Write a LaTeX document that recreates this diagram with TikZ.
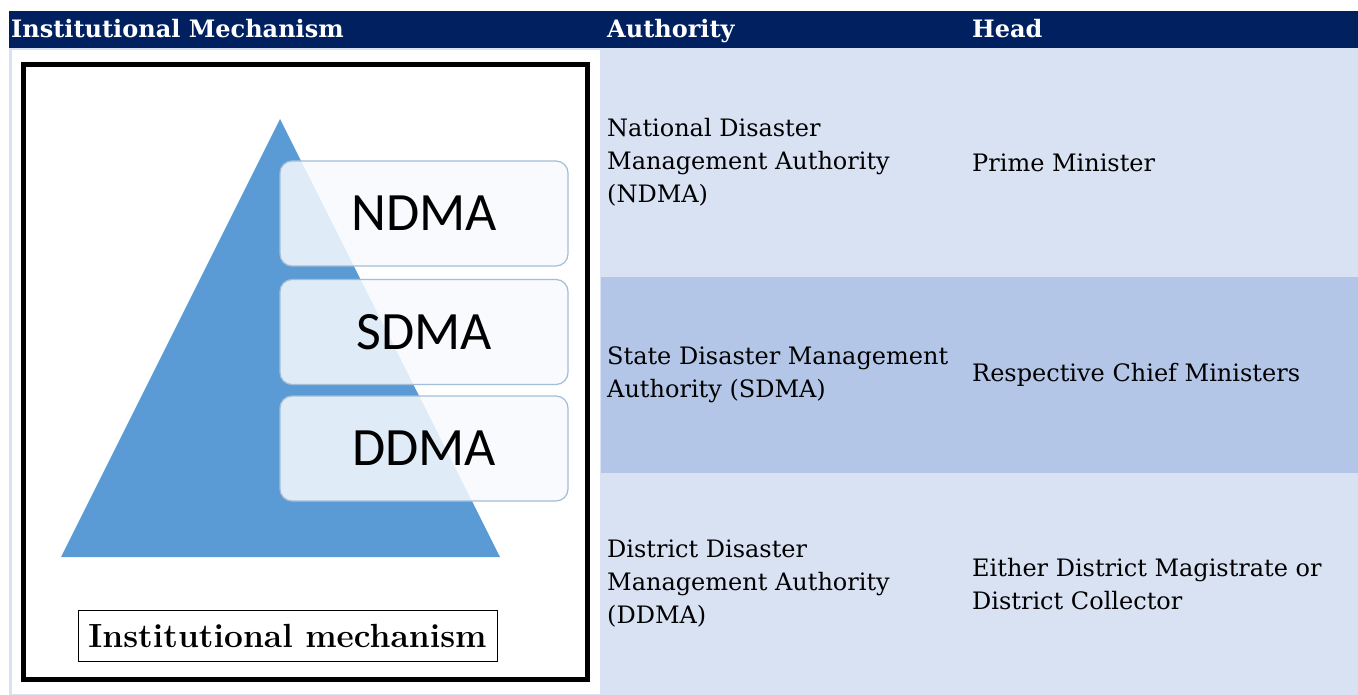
\documentclass[tikz,border=0pt]{standalone}
\usepackage{fontspec}
\setmainfont{DejaVu Serif}
\newfontfamily\calib{Carlito}
\newfontfamily\capfont{Latin Modern Roman}
\usepackage{tikz}
\definecolor{hdblue}{HTML}{002060}
\definecolor{rowlight}{HTML}{D9E2F3}
\definecolor{rowdark}{HTML}{B4C6E7}
\definecolor{pyrblue}{HTML}{5B9BD5}
\definecolor{tierline}{HTML}{A3BDD6}
\definecolor{tierfill}{HTML}{F7FAFD}
\newcommand{\tierbox}[3]{
    \node[tier] (#1) at (424,#2) {#3};
}

\begin{document}
\begin{tikzpicture}[x=1pt,y=-1pt,
    tier/.style={draw=tierline,line width=1.2pt,fill=tierfill,fill opacity=0.85,text opacity=1,
        rounded corners=12pt,minimum width=288pt,minimum height=105pt,
        font=\calib\fontsize{54}{60}\selectfont},
    cell/.style={anchor=west,align=left,inner sep=0pt,font=\fontsize{24}{33}\selectfont},
    hdcell/.style={anchor=base west,inner sep=0pt,text=white,font=\bfseries\fontsize{24}{30}\selectfont}]
        \useasboundingbox (0,0) rectangle (1358,695);
        % header row
        \fill[hdblue] (9,11) rectangle (1358,48);
        \node[hdcell] (hmech) at (11,38) {Institutional Mechanism};
        \node[hdcell] (hauth) at (607,38) {Authority};
        \node[hdcell] (hhead) at (972,38) {Head};
        % body rows
        \fill[rowlight] (9,48) rectangle (1358,277);
        \fill[rowdark] (601,277) rectangle (1358,473);
        \fill[rowlight] (601,473) rectangle (1358,695);
        \fill[rowlight] (9,277) rectangle (601,695);
        \fill[white] (12,50) rectangle (600,694);
        % pyramid picture
        \draw[line width=5pt] (23.5,64.5) rectangle (587.5,679.5);
        \coordinate (apex) at (280,119);
        \coordinate (bl) at (61,557);
        \coordinate (br) at (500,557);
        \fill[pyrblue] (apex) -- (br) -- (bl) -- cycle;
        \tierbox{ndma}{213.5}{NDMA}
        \tierbox{sdma}{332}{SDMA}
        \tierbox{ddma}{448.5}{DDMA}
        \node[draw,line width=0.8pt,inner sep=0pt,minimum width=419pt,minimum height=51pt,
            font=\capfont\bfseries\fontsize{33.5}{40}\selectfont] (caption) at (287.5,635.5) {Institutional mechanism};
        % authority and head texts
        \node[cell] (nauth) at (607,162.5) {National Disaster\\Management Authority\\(NDMA)};
        \node[cell] (nhead) at (972,162.5) {Prime Minister};
        \node[cell] (sauth) at (607,375) {State Disaster Management\\Authority (SDMA)};
        \node[cell] (shead) at (972,375) {Respective Chief Ministers};
        \node[cell] (dauth) at (607,584) {District Disaster\\Management Authority\\(DDMA)};
        \node[cell] (dhead) at (972,584) {Either District Magistrate or\\District Collector};
\end{tikzpicture}
\end{document}
